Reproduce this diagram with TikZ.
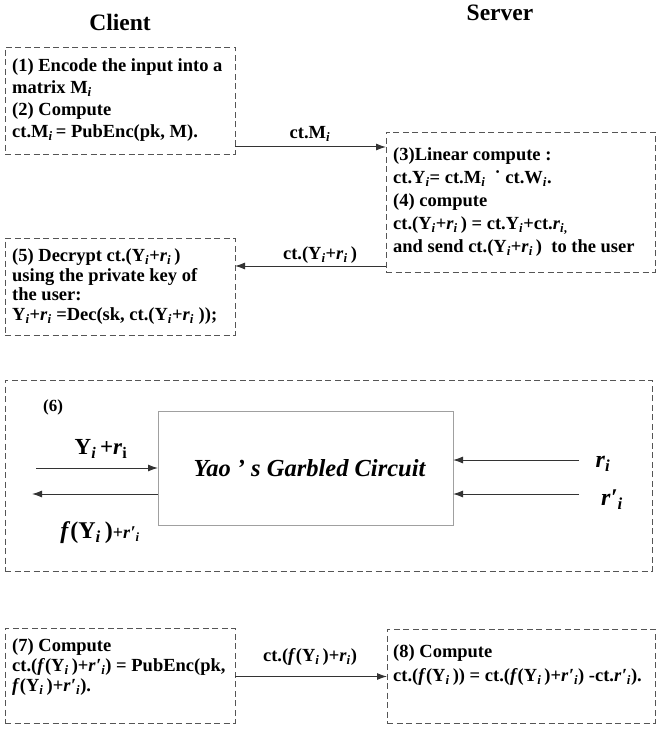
\documentclass[tikz,border=0pt]{standalone}
\usepackage{fontspec}
\setmainfont{Liberation Serif}
\usetikzlibrary{arrows.meta}
\definecolor{boxgray}{HTML}{555555}
\definecolor{arrgray}{HTML}{333333}
\definecolor{rectgray}{HTML}{A0A0A0}
\newcommand{\si}{\textsubscript{\textit{i}}}
\newcommand{\ri}{\textit{r}\si}
\newcommand{\rpi}{\textit{r\kern0.5pt′}\si}
\begin{document}
\begin{tikzpicture}[x=1pt,y=-1pt,
  dbox/.style={draw=boxgray, dash pattern=on 6pt off 3.5pt, line width=0.9pt, anchor=north west, inner sep=0pt, outer sep=0pt},
  txt/.style={align=left, anchor=west, inner sep=0pt, font=\fontsize{18.5pt}{22pt}\selectfont\bfseries},
  lbl/.style={inner sep=0pt, font=\fontsize{18.5pt}{22pt}\selectfont\bfseries},
  ttl/.style={inner sep=0pt, font=\fontsize{23.5pt}{26pt}\selectfont\bfseries},
  arr/.style={-{Latex[length=10pt,width=7pt]}, line width=1pt, draw=arrgray}]
\useasboundingbox (0,0) rectangle (661,730);

% titles
\node[ttl] (client) at (120,22) {Client};
\node[ttl] (server) at (500,13) {Server};

% box 1
\node[dbox, minimum width=230pt, minimum height=107pt] (b1) at (5,47) {};
\node[txt] (t1) at ([xshift=7pt]b1.west) {(1) Encode the input into a\\ matrix M\si\\ (2) Compute\\ ct.M\si\,= PubEnc(pk, M).};

% box 2
\node[dbox, minimum width=269pt, minimum height=140pt] (b2) at (386,132) {};
\node[txt, font=\fontsize{18.5pt}{23pt}\selectfont\bfseries] (t2) at ([xshift=7pt]b2.west) {(3)Linear compute :\\ ct.Y\si= ct.M\si\ \ ˙ ct.W\si.\\ (4) compute\\ ct.(Y\si+\ri\,) = ct.Y\si+ct.\textit{r}\textsubscript{\textit{i},}\\ and send ct.(Y\si+\ri\,)\ \ to the user};

% box 5
\node[dbox, minimum width=230pt, minimum height=97pt] (b5) at (5,238) {};
\node[txt, font=\fontsize{18.5pt}{19.5pt}\selectfont\bfseries] (t5) at ([xshift=7pt]b5.west) {(5) Decrypt ct.(Y\si+\ri\,)\\ using the private key of\\ the user:\\ Y\si+\ri\ =Dec(sk, ct.(Y\si+\ri\ ));};

% arrows top
\draw[arr] ([yshift=7pt]b1.south east) -- ([yshift=7pt]b1.south east -| b2.west);
\node[lbl] (l1) at (310,134) {ct.M\si};
\draw[arr] ([yshift=6pt]b2.south west) -- ([yshift=6pt]b2.south west -| b5.east);
\node[lbl] (l2) at (320,255) {ct.(Y\si+\ri\,)};

% box 6
\node[dbox, minimum width=647pt, minimum height=191pt] (b6) at (5,380) {};
\node[lbl, font=\fontsize{17pt}{20pt}\selectfont\bfseries] (six) at (53,407) {(6)};
\node[draw=rectgray, line width=0.8pt, anchor=north west, minimum width=295pt, minimum height=114pt, inner sep=0pt, outer sep=0pt,
      font=\fontsize{24.5pt}{28pt}\selectfont\bfseries\itshape] (yao) at (158,411) {\hspace*{8pt}Yao ’ s Garbled Circuit};
\coordinate (inA) at (36,468);
\coordinate (outA) at (32,494);
\coordinate (rA) at (579,460);
\coordinate (rpA) at (579,494);
\draw[arr] (inA) -- (inA -| yao.west);
\draw[arr] (outA -| yao.west) -- (outA);
\draw[arr] (rA) -- (rA -| yao.east);
\draw[arr] (rpA) -- (rpA -| yao.east);
\node[lbl, font=\fontsize{23pt}{26pt}\selectfont\bfseries] (yin) at (101,449) {Y\si\,+\textit{r}\textsubscript{i}};
\node[lbl, font=\fontsize{24pt}{26pt}\selectfont\bfseries] (fout) at (100,533) {\textit{f}(Y\si\,)\fontsize{18pt}{20pt}\selectfont+\rpi};
\node[lbl, font=\fontsize{24pt}{26pt}\selectfont\bfseries] (rlab) at (603,464) {\ri};
\node[lbl, font=\fontsize{24pt}{26pt}\selectfont\bfseries] (rplab) at (612,500) {\rpi};

% box 7
\node[dbox, minimum width=230pt, minimum height=95pt] (b7) at (5,628) {};
\node[txt, font=\fontsize{18.5pt}{20pt}\selectfont\bfseries] (t7) at ([xshift=7pt,yshift=8.5pt]b7.west) {(7) Compute\\ ct.(\textit{f}(Y\si\,)+\rpi) = PubEnc(pk,\\ \textit{f}(Y\si\,)+\rpi).};

% box 8
\node[dbox, minimum width=268pt, minimum height=94pt] (b8) at (387,629) {};
\node[txt, font=\fontsize{18.5pt}{24pt}\selectfont\bfseries] (t8) at ([xshift=6pt,yshift=11pt]b8.west) {(8) Compute\\ ct.(\textit{f}(Y\si\,)) = ct.(\textit{f}(Y\si\,)+\rpi) -ct.\rpi).};

\draw[arr] ([yshift=-1pt]b7.east) -- ([yshift=-1pt]b7.east -| b8.west);
\node[lbl] (l3) at (310,657) {ct.(\textit{f}(Y\si\,)+\ri)};
\end{tikzpicture}
\end{document}
